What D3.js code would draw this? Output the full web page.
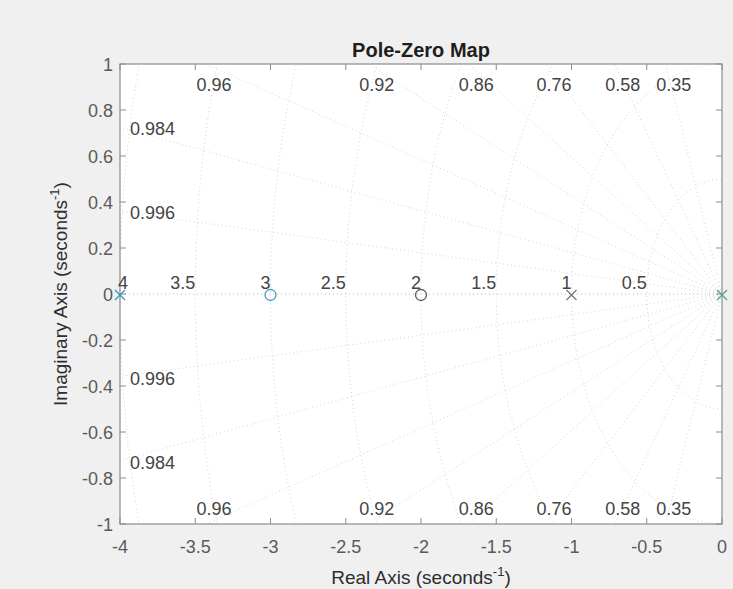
<!DOCTYPE html>
<html><head><meta charset="utf-8">
<script src="https://cdn.jsdelivr.net/npm/d3@7"></script>
<style>
body{margin:0;background:#f0f0f0;}
text{font-family:"Liberation Sans",Arial,Helvetica,sans-serif;}
</style></head>
<body><div id="chart"></div>
<script>
const xTicks = [-4,-3.5,-3,-2.5,-2,-1.5,-1,-0.5,0];
const yTicks = [-1,-0.8,-0.6,-0.4,-0.2,0,0.2,0.4,0.6,0.8,1];
const dampingValues = [0.35,0.58,0.76,0.86,0.92,0.96,0.984,0.996];
const freqValues = [0.5,1,1.5,2,2.5,3,3.5,4];
const poles = [{re:-4,im:0,c:"#3f8fbf"},{re:-1,im:0,c:"#7a7a7a"},{re:0,im:0,c:"#4fa58a"}];
const zeros = [{re:-3,im:0,c:"#4a9ac4"},{re:-2,im:0,c:"#5e5e5e"}];

const W=733,H=589;
const m={l:120,r:11,t:64,b:65};
const svg=d3.select("#chart").append("svg").attr("width",W).attr("height",H);
svg.append("rect").attr("width",W).attr("height",H).attr("fill","#f0f0f0");
const x=d3.scaleLinear().domain([-4,0]).range([m.l,W-m.r]);
const y=d3.scaleLinear().domain([-1,1]).range([H-m.b,m.t]);
const pw=W-m.r-m.l, ph=H-m.b-m.t;

svg.append("rect").attr("x",m.l).attr("y",m.t).attr("width",pw).attr("height",ph).attr("fill","#fff");
svg.append("clipPath").attr("id","clip").append("rect").attr("x",m.l).attr("y",m.t).attr("width",pw).attr("height",ph);
const g=svg.append("g").attr("clip-path","url(#clip)");
const gridStyle=s=>s.attr("fill","none").attr("stroke","#c4c4c4").attr("stroke-width",1).attr("stroke-dasharray","1,3").attr("opacity",0.75);

// damping lines
const line=d3.line().x(d=>x(d[0])).y(d=>y(d[1]));
const R=20;
const zl=[1,...dampingValues];
zl.forEach(z=>{
  const s=Math.sqrt(1-z*z);
  [1,-1].forEach(sg=>{
    g.append("path").attr("d",line([[0,0],[-R*z,sg*R*s]])).call(gridStyle);
  });
});
// frequency arcs
freqValues.forEach(w=>{
  const pts=d3.range(-90,90.5,1).map(a=>[-w*Math.cos(a*Math.PI/180),w*Math.sin(a*Math.PI/180)]);
  g.append("path").attr("d",line(pts)).call(gridStyle);
});

// axes
const ax=svg.append("g");
const axC="#8c8c8c";
ax.append("rect").attr("x",m.l).attr("y",m.t).attr("width",pw).attr("height",ph).attr("fill","none").attr("stroke",axC).attr("stroke-width",1.2);
xTicks.forEach(t=>{
  ax.append("line").attr("x1",x(t)).attr("x2",x(t)).attr("y1",y(-1)).attr("y2",y(-1)-6).attr("stroke",axC);
  ax.append("line").attr("x1",x(t)).attr("x2",x(t)).attr("y1",y(1)).attr("y2",y(1)+6).attr("stroke",axC);
  ax.append("text").attr("x",x(t)).attr("y",y(-1)+29).attr("text-anchor","middle").attr("font-size",18).attr("fill","#5a5a5a").text(String(t));
});
yTicks.forEach(t=>{
  ax.append("line").attr("x1",x(-4)).attr("x2",x(-4)+6).attr("y1",y(t)).attr("y2",y(t)).attr("stroke",axC);
  ax.append("line").attr("x1",x(0)).attr("x2",x(0)-6).attr("y1",y(t)).attr("y2",y(t)).attr("stroke",axC);
  ax.append("text").attr("x",m.l-7).attr("y",y(t)+6.5).attr("text-anchor","end").attr("font-size",18).attr("fill","#5a5a5a").text(Math.abs(t)<1e-9?"0":String(t));
});

// damping labels
const lab=svg.append("g").attr("font-size",18).attr("fill","#444");
dampingValues.forEach(z=>{
  const s=Math.sqrt(1-z*z);
  const reTop=-z/s;
  if(reTop>-4){
    const xc=x(reTop)+8;
    lab.append("text").attr("x",xc).attr("y",y(1)+27).attr("text-anchor","middle").text(String(z));
    lab.append("text").attr("x",xc).attr("y",y(-1)-9).attr("text-anchor","middle").text(String(z));
  } else {
    const im=4*s/z;
    lab.append("text").attr("x",x(-4)+10).attr("y",y(im)+8).text(String(z));
    lab.append("text").attr("x",x(-4)+10).attr("y",y(-im)+8).text(String(z));
  }
});
// frequency labels
freqValues.forEach(w=>{
  const t=lab.append("text").attr("x",x(-w)).attr("y",y(0)-5).attr("text-anchor",w===4?"start":"end").text(String(w));
  if(w===4) t.attr("x",x(-w)-2);
});

// markers
const mk=svg.append("g");
zeros.forEach(p=>{
  mk.append("circle").attr("cx",x(p.re)).attr("cy",y(p.im)+1).attr("r",5.5).attr("fill","none").attr("stroke",p.c).attr("stroke-width",1.3);
});
poles.forEach(p=>{
  const cx=x(p.re),cy=y(p.im)+1,s=5;
  mk.append("path").attr("d",`M${cx-s},${cy-s}L${cx+s},${cy+s}M${cx-s},${cy+s}L${cx+s},${cy-s}`).attr("stroke",p.c).attr("stroke-width",1.3);
});

// title and labels
svg.append("text").attr("x",m.l+pw/2).attr("y",57).attr("text-anchor","middle").attr("font-size",20).attr("font-weight","bold").attr("fill","#1e1e1e").text("Pole-Zero Map");
const xl=svg.append("text").attr("x",m.l+pw/2).attr("y",584).attr("text-anchor","middle").attr("font-size",19).attr("fill","#2e2e2e");
xl.append("tspan").text("Real Axis (seconds");
xl.append("tspan").attr("dy",-8).attr("font-size",13).text("-1");
xl.append("tspan").attr("dy",8).text(")");
const yl=svg.append("text").attr("transform",`translate(67,${y(0)}) rotate(-90)`).attr("text-anchor","middle").attr("font-size",19).attr("fill","#2e2e2e");
yl.append("tspan").text("Imaginary Axis (seconds");
yl.append("tspan").attr("dy",-8).attr("font-size",13).text("-1");
yl.append("tspan").attr("dy",8).text(")");
</script></body></html>
